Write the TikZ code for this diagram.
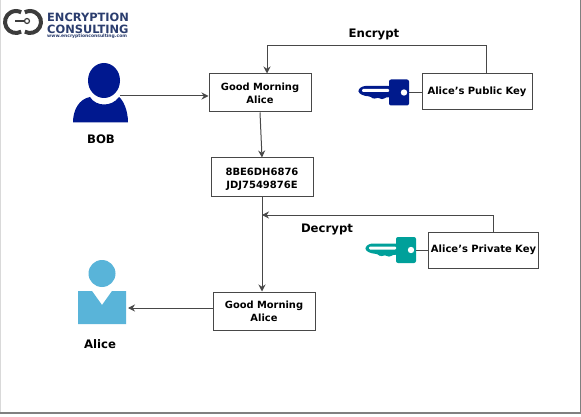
\documentclass[tikz,border=0pt]{standalone}
\usepackage{fontspec}
\setmainfont{DejaVu Sans}
\usetikzlibrary{arrows.meta}
\definecolor{bobblue}{HTML}{00188F}
\definecolor{keyblue}{HTML}{001A8C}
\definecolor{keyteal}{HTML}{00A09A}
\definecolor{alicesky}{HTML}{59B4D9}
\definecolor{logonavy}{HTML}{2B3D6E}
\definecolor{logogray}{HTML}{3C3C3C}
\definecolor{linegray}{HTML}{484848}
\tikzset{
  msgbox/.style={draw=linegray, line width=1pt, fill=white, minimum height=38pt, text width=102pt, inner sep=0pt, align=center, font=\fontsize{9.9}{13}\selectfont\bfseries},
  cipherbox/.style={msgbox, font=\fontsize{10}{13.5}\selectfont\bfseries},
  keybox/.style={msgbox, minimum height=36pt, text width=110pt, font=\fontsize{10}{13}\selectfont\bfseries},
  title/.style={inner sep=0pt, font=\fontsize{11.7}{14}\selectfont\bfseries},
  logotext/.style={inner sep=0pt, anchor=west, text=logonavy, font=\fontsize{11.4}{12}\selectfont\bfseries},
  conn/.style={draw=linegray, line width=1pt},
  arrow/.style={conn, -{Stealth[length=7pt,width=7pt]}},
}
% key icon, drawn left of the origin
\newcommand{\keyicon}[1]{
  \fill[#1, rounded corners=2pt] (0,-13) rectangle (-20,13);
  \fill[#1, rounded corners=2.5pt] (-18,-6.5) -- (-46,-6.5) -- (-51,-3) -- (-50,1) -- (-44,3.5) -- (-38,4) -- (-35,7) -- (-31,4.5) -- (-27,7.5) -- (-23,4.5) -- (-18,5) -- cycle;
  \fill[white, rounded corners=1pt] (-20,-3.5) rectangle (-47,-0.5);
  \fill[white] (-5,0) circle (3.2);
}
\begin{document}
\begin{tikzpicture}[x=1pt, y=-1pt]
  \useasboundingbox (0,0) rectangle (581,417);
  \fill[white] (0,0) rectangle (581,417);
  \draw[gray!30, line width=1pt] (0.5,0) -- (0.5,413);
  \draw[gray, line width=1pt] (580.5,0) -- (580.5,413);
  \draw[gray, line width=2pt] (0,413) -- (581,413);

  % logo
  \draw[logogray, line width=4pt] (16,22) ++(62:11) arc[start angle=62, end angle=298, radius=11];
  \draw[logogray, line width=4pt] (30,22) ++(118:11) arc[start angle=118, end angle=-118, radius=11];
  \draw[logogray, line width=1.4pt] (15,21) -- (25,21);
  \draw[logogray, line width=1.2pt, fill=white] (27,21) circle (2.5);
  \node[logotext] (logoa) at (47,17) {ENCRYPTION};
  \node[logotext] (logob) at (47,29) {CONSULTING};
  \node[logotext, font=\fontsize{4.5}{5}\selectfont\bfseries] (logoc) at (47,36.5) {www.encryptionconsulting.com};

  % bob
  \fill[bobblue] (104,80.5) ellipse (16 and 17.5);
  \fill[bobblue] (73,122.5) .. controls (73,110) and (79,99) .. (90,97) .. controls (96,107) and (112,107) .. (119,97) .. controls (123,100) and (128,110) .. (128,122.5) -- cycle;
  \coordinate (bobhand) at (120,96);
  \node[title] (bob) at (101,139.5) {BOB};

  % alice
  \fill[alicesky] (102,273.5) circle (13.5);
  \fill[alicesky] (78,291) -- (92,291) -- (102,305) -- (112,291) -- (126,291) -- (126,324) -- (78,324) -- cycle;
  \coordinate (alicehand) at (128,308);
  \node[title] (alice) at (100,344) {Alice};

  % boxes
  \node[msgbox] (plain) at (260,93) {Good Morning\\Alice};
  \node[cipherbox] (cipher) at (262,177) {\rule{0pt}{12.5pt}8BE6DH6876\\JDJ7549876E};
  \node[msgbox] (clear) at (264,311) {Good Morning\\Alice};
  \node[keybox] (pubkey) at (477,91.5) {Alice\char39 s Public Key};
  \node[keybox] (privkey) at (483.5,250) {Alice\char39 s Private Key};

  % keys
  \begin{scope}[shift={(409,92.5)}]
    \keyicon{keyblue}
    \coordinate (pubkeyend) at (0,0);
  \end{scope}
  \begin{scope}[shift={(416,250)}]
    \keyicon{keyteal}
    \coordinate (privkeyend) at (0,0);
  \end{scope}
  \draw[conn] (pubkeyend) -- (pubkey.west |- pubkeyend);
  \draw[conn] (privkeyend) -- (privkey.west);

  % arrows
  \coordinate (pubturn) at (486,46);
  \coordinate (privturn) at (493,215);
  \coordinate (plainin) at (267,46);
  \coordinate (cipherout) at (262,215);
  \draw[arrow] (bobhand) -- (plain.west |- bobhand);
  \draw[arrow] (pubkey.north -| pubturn) -- (pubturn) -- (plainin) -- (plainin |- plain.north);
  \draw[arrow] (plain.south) -- (cipher.north);
  \draw[arrow] (cipher.south) -- (cipher.south |- clear.north);
  \draw[arrow] (privkey.north -| privturn) -- (privturn) -- (cipherout);
  \draw[arrow] (clear.west |- alicehand) -- (alicehand);

  \node[title] (encrypt) at (374,34) {Encrypt};
  \node[title] (decrypt) at (327,229) {Decrypt};
\end{tikzpicture}
\end{document}
